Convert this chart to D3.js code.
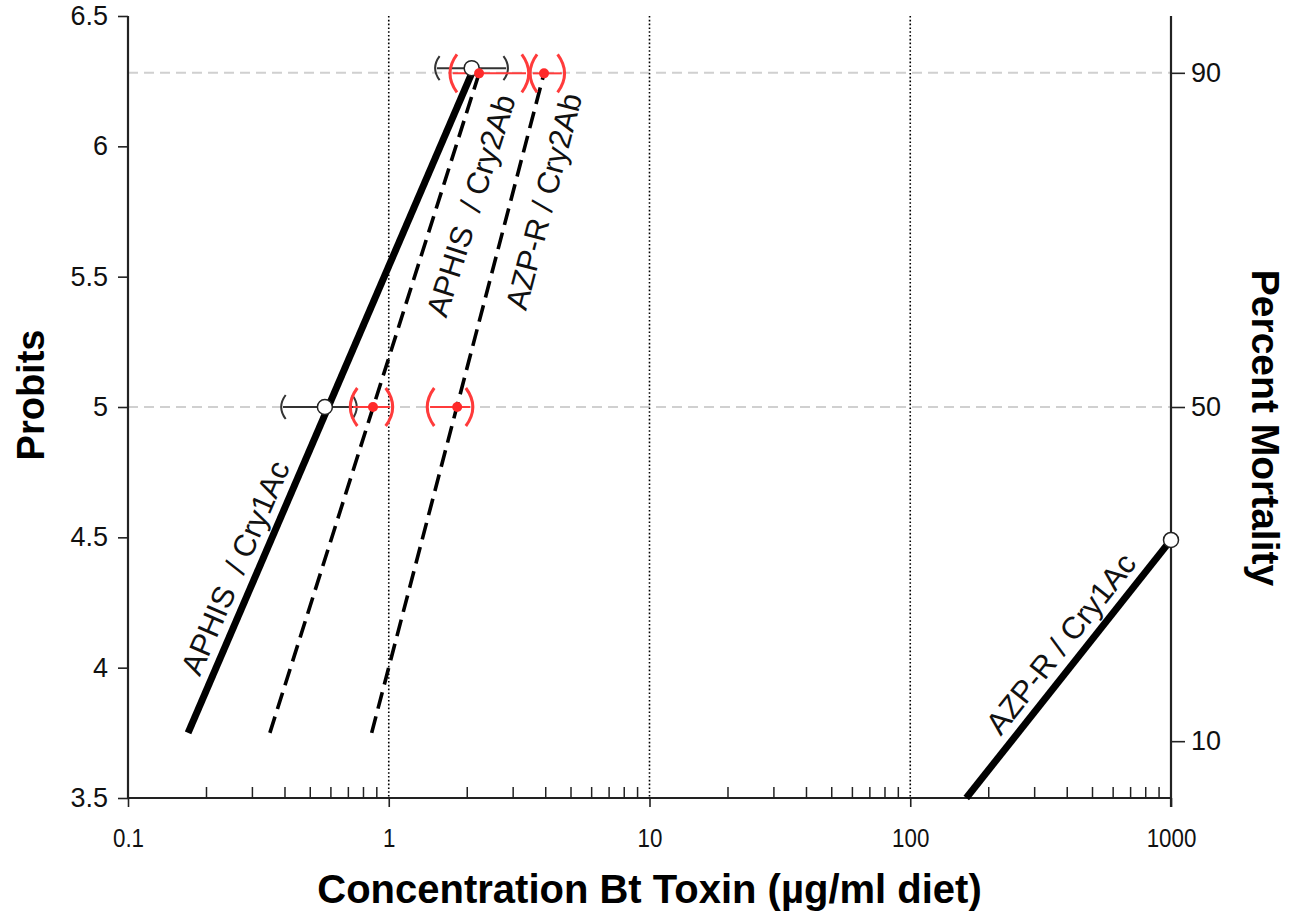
<!DOCTYPE html>
<html>
<head>
<meta charset="utf-8">
<script src="https://cdn.jsdelivr.net/npm/d3@7"></script>
<style>
  body { margin: 0; background: #fff; }
  text { font-family: "Liberation Sans", Arial, sans-serif; }
</style>
</head>
<body>
<script>
// axis ticks
var xTicks = [0.1, 1, 10, 100, 1000];
var yTicks = [3.5, 4, 4.5, 5, 5.5, 6, 6.5];
var mortalityPct = [10, 50, 90];
var mortalityProbit = [3.718, 5, 6.282];

// regression lines (concentration, probit)
var lineNames = ["APHIS  / Cry1Ac", "APHIS  / Cry2Ab", "AZP-R / Cry2Ab", "AZP-R / Cry1Ac"];
var lineDashed = [false, true, true, false];
var lineStart = [[0.17, 3.75], [0.35, 3.75], [0.86, 3.75], [164, 3.5]];
var lineEnd = [[2.08, 6.28], [2.22, 6.28], [3.94, 6.28], [1000, 4.49]];
// label placement: probit along the line and perpendicular offset
var labelProbit = [4.35, 5.81, 5.82, 4.04];
var labelOffset = [22, -32, -32, 22];

// Cry1Ac lethal concentrations (open circles) with 95% CI
var cry1acConc = [0.569, 2.08, 1000];
var cry1acProbit = [5, 6.30, 4.49];
var cry1acLow = [0.393, 1.53, null];
var cry1acHigh = [0.742, 2.82, null];

// Cry2Ab lethal concentrations (red dots) with 95% CI
var cry2abConc = [0.87, 1.83, 2.22, 3.94];
var cry2abProbit = [5, 5, 6.28, 6.28];
var cry2abLow = [0.73, 1.44, 1.76, 3.57];
var cry2abHigh = [1.01, 2.05, 3.36, 4.61];

var width = 1302, height = 915;
var margin = {left: 128, right: 131, top: 16, bottom: 117};

var svg = d3.select("body").append("svg")
    .attr("width", width)
    .attr("height", height);

var x = d3.scaleLog()
    .domain([0.1, 1000])
    .range([margin.left, width - margin.right]);

var y = d3.scaleLinear()
    .domain([3.5, 6.5])
    .range([height - margin.bottom, margin.top]);

var x0 = x.range()[0], x1 = x.range()[1];
var yBottom = y.range()[0], yTop = y.range()[1];

// light gray reference lines at 50 and 90 %
svg.append("g").selectAll("line")
    .data([mortalityProbit[1], mortalityProbit[2]])
    .enter().append("line")
      .attr("x1", x0).attr("x2", x1)
      .attr("y1", d => y(d)).attr("y2", d => y(d))
      .attr("stroke", "#d0d0d0")
      .attr("stroke-width", 2)
      .attr("stroke-dasharray", "10,6");

// dotted verticals at decades
svg.append("g").selectAll("line")
    .data([1, 10, 100])
    .enter().append("line")
      .attr("x1", d => x(d)).attr("x2", d => x(d))
      .attr("y1", yTop).attr("y2", yBottom)
      .attr("stroke", "#000")
      .attr("stroke-width", 1.6)
      .attr("stroke-dasharray", "1.6,2.2");

// left axis
var leftAxis = svg.append("g")
    .attr("transform", "translate(" + x0 + ",0)")
    .call(d3.axisLeft(y).tickValues(yTicks).tickSize(10).tickPadding(10)
      .tickFormat(d3.format("")));

// right axis (percent mortality)
var rightAxis = svg.append("g")
    .attr("transform", "translate(" + x1 + ",0)")
    .call(d3.axisRight(y).tickValues(mortalityProbit).tickSize(14).tickPadding(6)
      .tickFormat((d, i) => mortalityPct[i]));

// bottom axis: major ticks down, minor ticks up
var minorTicks = x.ticks(40).filter(d => xTicks.indexOf(d) < 0);
var bottomAxis = svg.append("g")
    .attr("transform", "translate(0," + yBottom + ")")
    .call(d3.axisBottom(x).tickValues(xTicks).tickSize(9).tickPadding(22)
      .tickFormat(d3.format("")));

svg.append("g").selectAll("line")
    .data(minorTicks)
    .enter().append("line")
      .attr("x1", d => x(d)).attr("x2", d => x(d))
      .attr("y1", yBottom).attr("y2", yBottom - 11)
      .attr("stroke", "#222")
      .attr("stroke-width", 1.5);

[leftAxis, rightAxis, bottomAxis].forEach(function(g) {
  g.select(".domain").attr("stroke", "#222").attr("stroke-width", 2.2);
  g.selectAll(".tick line").attr("stroke", "#222").attr("stroke-width", 1.6);
  g.selectAll("text").attr("fill", "#111")
    .style("font-family", "'Liberation Sans', Arial, sans-serif")
    .style("font-size", "27px");
});
leftAxis.select(".domain").attr("d", "M0," + yBottom + "V" + yTop);
rightAxis.select(".domain").attr("d", "M0," + (yBottom + 9) + "V" + yTop);
bottomAxis.select(".domain").attr("d", "M" + x0 + ",0H" + x1);
// narrower digits on the concentration axis
bottomAxis.selectAll(".tick text")
    .style("font-size", "26px")
    .attr("transform", "scale(0.86,1)")
    .attr("x", function() { return 0; });
bottomAxis.selectAll(".tick").each(function(d) {
  d3.select(this).select("text").attr("text-anchor", "middle");
});

// regression lines
var regLines = svg.append("g");
lineNames.forEach(function(name, i) {
  regLines.append("line")
      .attr("x1", x(lineStart[i][0])).attr("y1", y(lineStart[i][1]))
      .attr("x2", x(lineEnd[i][0])).attr("y2", y(lineEnd[i][1]))
      .attr("stroke", "#000")
      .attr("stroke-width", lineDashed[i] ? 3.6 : 7)
      .attr("stroke-dasharray", lineDashed[i] ? "17,8" : null);

  // rotated label along the line
  var px0 = x(lineStart[i][0]), py0 = y(lineStart[i][1]);
  var px1 = x(lineEnd[i][0]), py1 = y(lineEnd[i][1]);
  var ang = Math.atan2(py1 - py0, px1 - px0);
  var t = (labelProbit[i] - lineStart[i][1]) / (lineEnd[i][1] - lineStart[i][1]);
  var fx = px0 + t * (px1 - px0), fy = py0 + t * (py1 - py0);
  var ux = Math.sin(ang), uy = -Math.cos(ang);
  var cx = fx + ux * labelOffset[i], cy = fy + uy * labelOffset[i];
  regLines.append("text")
      .attr("transform", "translate(" + cx + "," + cy + ")rotate(" + (ang * 180 / Math.PI) + ")")
      .attr("text-anchor", "middle")
      .attr("dy", "0.35em")
      .style("font-size", "31px")
      .style("white-space", "pre")
      .attr("fill", "#111")
      .text(name);
});

// parenthesis-shaped CI caps
function paren(px, py, h, bulge, left) {
  var s = left ? 1 : -1;
  return "M" + (px + s * bulge * 0.6) + "," + (py - h / 2) +
         "Q" + (px - s * bulge * 1.4) + "," + py + " " + (px + s * bulge * 0.6) + "," + (py + h / 2);
}

function drawCI(g, conc, probit, lo, hi, color, h, bulge, capW, barW) {
  conc.forEach(function(c, i) {
    if (lo[i] == null) return;
    var py = y(probit[i]);
    g.append("line")
        .attr("x1", x(lo[i])).attr("x2", x(hi[i]))
        .attr("y1", py).attr("y2", py)
        .attr("stroke", color).attr("stroke-width", barW);
    g.append("path").attr("d", paren(x(lo[i]), py, h, bulge, true))
        .attr("fill", "none").attr("stroke", color).attr("stroke-width", capW);
    g.append("path").attr("d", paren(x(hi[i]), py, h, bulge, false))
        .attr("fill", "none").attr("stroke", color).attr("stroke-width", capW);
  });
}

var ciBlack = svg.append("g");
drawCI(ciBlack, cry1acConc, cry1acProbit, cry1acLow, cry1acHigh, "#333", 24, 4.5, 2, 2);
var ciRed = svg.append("g");
drawCI(ciRed, cry2abConc, cry2abProbit, cry2abLow, cry2abHigh, "#ff3b3b", 38, 7, 3, 2);

// markers
svg.append("g").selectAll("circle")
    .data(cry1acConc)
    .enter().append("circle")
      .attr("cx", d => x(d))
      .attr("cy", (d, i) => y(cry1acProbit[i]))
      .attr("r", 7.5)
      .attr("fill", "#fff")
      .attr("stroke", "#222")
      .attr("stroke-width", 1.5);

svg.append("g").selectAll("circle")
    .data(cry2abConc)
    .enter().append("circle")
      .attr("cx", d => x(d))
      .attr("cy", (d, i) => y(cry2abProbit[i]))
      .attr("r", 5)
      .attr("fill", "#ff2a2a");

// axis titles
svg.append("text")
    .attr("x", (x0 + x1) / 2)
    .attr("y", 903)
    .attr("text-anchor", "middle")
    .style("font-size", "40px")
    .style("font-weight", "bold")
    .text("Concentration Bt Toxin (µg/ml diet)");

svg.append("text")
    .attr("transform", "translate(44," + 395 + ")rotate(-90)")
    .attr("text-anchor", "middle")
    .style("font-size", "38px")
    .style("font-weight", "bold")
    .text("Probits");

svg.append("text")
    .attr("transform", "translate(1252," + 428 + ")rotate(90)")
    .attr("text-anchor", "middle")
    .style("font-size", "39px")
    .style("font-weight", "bold")
    .text("Percent Mortality");
</script>
</body>
</html>
